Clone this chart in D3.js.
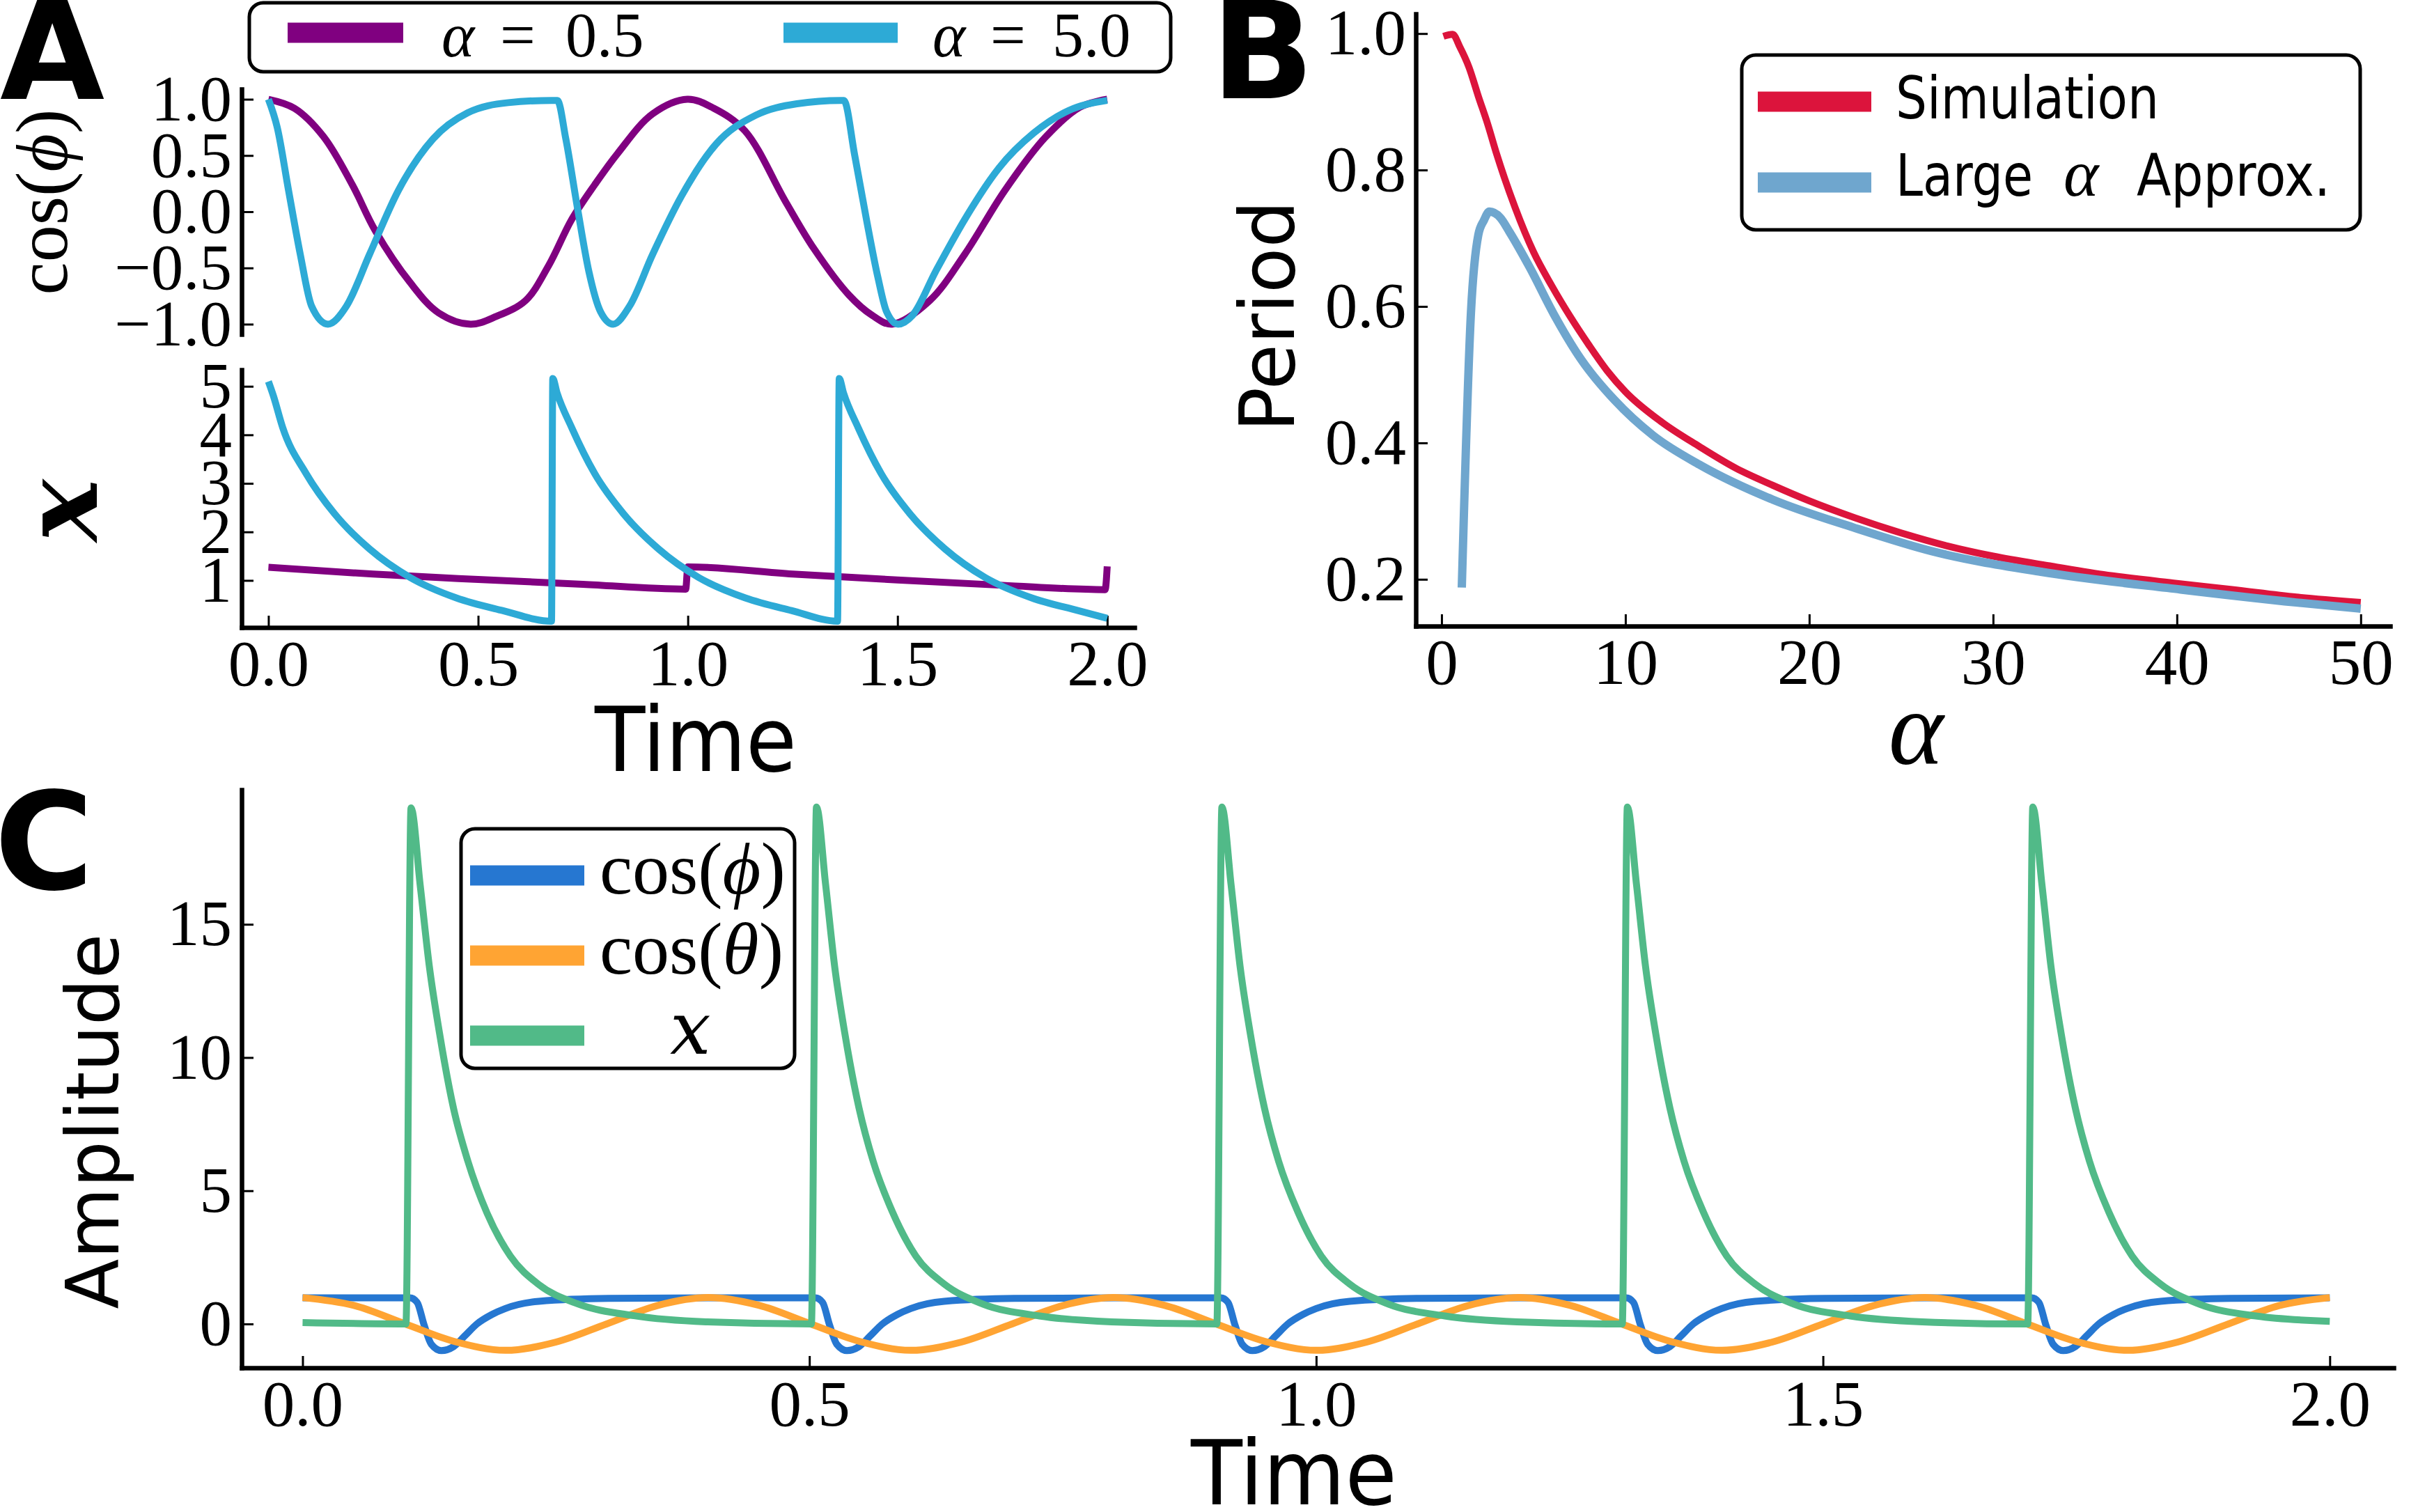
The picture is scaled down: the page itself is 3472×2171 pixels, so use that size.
<!DOCTYPE html>
<html>
<head>
<meta charset="utf-8">
<script src="https://cdn.jsdelivr.net/npm/d3@7"></script>
<style>
  body { margin: 0; background: #fff; }
  svg { display: block; }
</style>
</head>
<body>
<script>
/* ---------- data: panel A (time series, two alphas) ---------- */
var aTimeCos05 = [0, 0.062, 0.131, 0.2, 0.255, 0.338, 0.406, 0.482, 0.544, 0.613, 0.668, 0.723, 0.778, 0.833, 0.916, 0.999, 1.062, 1.136, 1.233, 1.301, 1.384, 1.439, 1.487, 1.577, 1.66, 1.756, 1.852, 1.935, 2.0];
var aCos05 = [1.0, 0.92, 0.67, 0.24, -0.17, -0.63, -0.9, -1.0, -0.93, -0.79, -0.48, -0.07, 0.24, 0.52, 0.87, 1.0, 0.92, 0.72, 0.09, -0.33, -0.74, -0.92, -1.0, -0.79, -0.38, 0.19, 0.66, 0.93, 1.0];

var aTimeCos5 = [0, 0.021, 0.048, 0.076, 0.103, 0.142, 0.186, 0.241, 0.31, 0.393, 0.475, 0.572, 0.675, 0.689, 0.709, 0.737, 0.764, 0.792, 0.822, 0.861, 0.916, 0.985, 1.067, 1.163, 1.26, 1.364, 1.372, 1.398, 1.426, 1.453, 1.474, 1.501, 1.536, 1.591, 1.66, 1.742, 1.825, 1.908, 2.0];
var aCos5 = [1.0, 0.75, 0.19, -0.38, -0.84, -1.0, -0.84, -0.38, 0.19, 0.65, 0.88, 0.97, 0.99, 0.99, 0.65, 0.03, -0.53, -0.89, -1.0, -0.84, -0.38, 0.14, 0.6, 0.86, 0.96, 0.99, 0.99, 0.5, -0.07, -0.58, -0.89, -1.0, -0.92, -0.53, -0.07, 0.39, 0.70, 0.9, 0.99];

var aTimeX05 = [0, 0.25, 0.5, 0.75, 0.995, 1.0, 1.25, 1.5, 1.75, 1.995, 2.0];
var aX05 = [1.27, 1.13, 1.02, 0.92, 0.82, 1.28, 1.13, 1.01, 0.9, 0.81, 1.29];

var aTimeX5 = [0, 0.012, 0.034, 0.09, 0.158, 0.241, 0.338, 0.448, 0.558, 0.675, 0.678, 0.688, 0.723, 0.778, 0.847, 0.93, 1.026, 1.137, 1.247, 1.357, 1.361, 1.371, 1.406, 1.461, 1.53, 1.613, 1.709, 1.82, 1.93, 2.0];
var aX5 = [5.1, 4.8, 4.15, 3.2, 2.37, 1.65, 1.06, 0.64, 0.38, 0.16, 5.16, 4.87, 4.15, 3.2, 2.37, 1.65, 1.06, 0.64, 0.38, 0.16, 5.16, 4.87, 4.15, 3.2, 2.37, 1.65, 1.06, 0.64, 0.38, 0.22];

var aTicksT = [0, 0.5, 1, 1.5, 2];
var aTicksCos = [-1, -0.5, 0, 0.5, 1];
var aTicksX = [1, 2, 3, 4, 5];

/* ---------- data: panel B (period vs alpha) ---------- */
var bAlphaSim = [0.1, 0.6, 1, 1.5, 2, 2.5, 3, 4, 5, 6, 7, 8, 9, 10, 12, 14, 16, 18, 20, 22.5, 25, 27.5, 30, 33, 36, 40, 43, 46.5, 50];
var bPeriodSim = [0.996, 0.999, 0.98, 0.95, 0.908, 0.868, 0.823, 0.745, 0.68, 0.63, 0.585, 0.544, 0.506, 0.475, 0.43, 0.395, 0.363, 0.338, 0.315, 0.29, 0.268, 0.249, 0.234, 0.22, 0.207, 0.194, 0.185, 0.174, 0.166];
var bAlphaApx = [1.1, 1.6, 2.0, 2.3, 2.6, 3.2, 3.7, 4.8, 6.1, 7.6, 9.4, 11.5, 14.1, 18, 22.4, 26.7, 32.6, 40.2, 46.5, 50];
var bPeriodApx = [0.188, 0.592, 0.705, 0.726, 0.739, 0.73, 0.709, 0.657, 0.589, 0.522, 0.463, 0.411, 0.367, 0.317, 0.276, 0.241, 0.211, 0.185, 0.166, 0.157];
var bTicksAlpha = [0, 10, 20, 30, 40, 50];
var bTicksPeriod = [0.2, 0.4, 0.6, 0.8, 1.0];

/* ---------- data: panel C (amplitudes) ---------- */
var cTimePhi = [0, 0.106, 0.113, 0.12, 0.127, 0.137, 0.149, 0.16, 0.172, 0.187, 0.2, 0.233, 0.302, 0.402,
  0.506, 0.513, 0.52, 0.527, 0.537, 0.549, 0.56, 0.572, 0.587, 0.6, 0.633, 0.702, 0.802,
  0.906, 0.913, 0.92, 0.927, 0.937, 0.949, 0.96, 0.972, 0.987, 1.0, 1.033, 1.102, 1.202,
  1.306, 1.313, 1.32, 1.327, 1.337, 1.349, 1.36, 1.372, 1.387, 1.4, 1.433, 1.502, 1.602,
  1.706, 1.713, 1.72, 1.727, 1.737, 1.749, 1.76, 1.772, 1.787, 1.8, 1.833, 1.902, 2.0];
var cCosPhi = [0.98, 0.98, 0.81, -0.05, -0.76, -1.0, -0.85, -0.45, 0.0, 0.36, 0.58, 0.85, 0.96, 0.98,
  0.98, 0.81, -0.05, -0.76, -1.0, -0.85, -0.45, 0.0, 0.36, 0.58, 0.85, 0.96, 0.98,
  0.98, 0.81, -0.05, -0.76, -1.0, -0.85, -0.45, 0.0, 0.36, 0.58, 0.85, 0.96, 0.98,
  0.98, 0.81, -0.05, -0.76, -1.0, -0.85, -0.45, 0.0, 0.36, 0.58, 0.85, 0.96, 0.98,
  0.98, 0.81, -0.05, -0.76, -1.0, -0.85, -0.45, 0.0, 0.36, 0.58, 0.85, 0.96, 0.98];

var cTimeTheta = [0, 0.05, 0.1, 0.15, 0.2, 0.25, 0.3, 0.35, 0.4, 0.45, 0.5, 0.55, 0.6, 0.65, 0.7, 0.75, 0.8, 0.85, 0.9, 0.95, 1.0,
  1.05, 1.1, 1.15, 1.2, 1.25, 1.3, 1.35, 1.4, 1.45, 1.5, 1.55, 1.6, 1.65, 1.7, 1.75, 1.8, 1.85, 1.9, 1.95, 2.0];
var cCosTheta = [0.99, 0.7, 0.02, -0.66, -0.99, -0.68, 0.0, 0.69, 0.99, 0.7, 0.02, -0.66, -0.99, -0.68, 0.0, 0.69, 0.99, 0.7, 0.02, -0.66, -0.99,
  -0.68, 0.0, 0.69, 0.99, 0.7, 0.02, -0.66, -0.99, -0.68, 0.0, 0.69, 0.99, 0.7, 0.02, -0.66, -0.99, -0.68, 0.0, 0.69, 0.99];

var cTimeX = [0, 0.102, 0.107, 0.116, 0.125, 0.135, 0.149, 0.163, 0.182, 0.205, 0.233, 0.271, 0.327, 0.398,
  0.502, 0.507, 0.516, 0.525, 0.535, 0.549, 0.563, 0.582, 0.605, 0.633, 0.671, 0.727, 0.798,
  0.902, 0.907, 0.916, 0.925, 0.935, 0.949, 0.963, 0.982, 1.005, 1.033, 1.071, 1.127, 1.198,
  1.302, 1.307, 1.316, 1.325, 1.335, 1.349, 1.363, 1.382, 1.405, 1.433, 1.471, 1.527, 1.598,
  1.702, 1.707, 1.716, 1.725, 1.735, 1.749, 1.763, 1.782, 1.805, 1.833, 1.871, 1.927, 2.0];
var cX = [0.05, 0.0, 19.37, 16.48, 13.44, 10.94, 8.08, 6.12, 4.16, 2.55, 1.48, 0.76, 0.31, 0.08,
  0.0, 19.4, 16.5, 13.4, 10.9, 8.1, 6.1, 4.2, 2.55, 1.5, 0.75, 0.3, 0.08,
  0.0, 19.4, 16.5, 13.4, 10.9, 8.1, 6.1, 4.2, 2.55, 1.5, 0.75, 0.3, 0.08,
  0.0, 19.4, 16.5, 13.4, 10.9, 8.1, 6.1, 4.2, 2.55, 1.5, 0.75, 0.3, 0.08,
  0.0, 19.4, 16.5, 13.4, 10.9, 8.1, 6.1, 4.2, 2.55, 1.5, 0.75, 0.3, 0.1];
var cTicksT = [0, 0.5, 1, 1.5, 2];
var cTicksAmp = [0, 5, 10, 15];

/* ---------- drawing ---------- */
var W = 3472, H = 2171;
var serif = '"Liberation Serif", "DejaVu Serif", serif';
var mathSerif = '"DejaVu Serif", "Liberation Serif", serif';
var sans = '"DejaVu Sans", sans-serif';

var svg = d3.select('body').append('svg').attr('width', W).attr('height', H);
svg.append('rect').attr('width', W).attr('height', H).attr('fill', '#fff');

var axT = d3.scaleLinear().domain([-0.0638, 2.065]).range([347, 1629]);
var ayCos = d3.scaleLinear().domain([-1.09, 1.09]).range([480, 128]);
var ayX = d3.scaleLinear().domain([0.03, 5.34]).range([901, 531]);
var bxA = d3.scaleLinear().domain([-1.4, 51.6]).range([2033, 3432]);
var byP = d3.scaleLinear().domain([0.1314, 1.0288]).range([899, 20]);
var cxT = d3.scaleLinear().domain([-0.0601, 2.063]).range([347, 3437]);
var cyA = d3.scaleLinear().domain([-1.647, 20.05]).range([1964, 1134]);

function styleAxis(g) {
  g.select('.domain').attr('stroke', '#000').attr('stroke-width', 6.5).attr('stroke-linecap', 'square');
  g.selectAll('.tick line').attr('stroke', '#000').attr('stroke-width', 3);
  g.selectAll('.tick text').attr('font-family', serif).attr('font-size', 93).attr('fill', '#000');
}
function leftAxis(scale, x, ticks, fmt) {
  var g = svg.append('g').attr('transform', 'translate(' + x + ',0)')
    .call(d3.axisLeft(scale).tickValues(ticks).tickFormat(fmt).tickSize(-17).tickSizeOuter(0).tickPadding(14));
  styleAxis(g);
  return g;
}
function bottomAxis(scale, y, ticks, fmt) {
  var g = svg.append('g').attr('transform', 'translate(0,' + y + ')')
    .call(d3.axisBottom(scale).tickValues(ticks).tickFormat(fmt).tickSize(-17).tickSizeOuter(0));
  styleAxis(g);
  g.selectAll('.tick text').attr('y', 83).attr('dy', null);
  return g;
}
function drawLine(xs, ys, tArr, vArr, color, width, curve) {
  var line = d3.line()
    .x(function(d) { return xs(d[0]); })
    .y(function(d) { return ys(d[1]); })
    .curve(curve || d3.curveMonotoneX);
  svg.append('path')
    .datum(d3.zip(tArr, vArr))
    .attr('d', line)
    .attr('fill', 'none')
    .attr('stroke', color)
    .attr('stroke-width', width)
    .attr('stroke-linejoin', 'round');
}
function legendBox(x, y, w, h) {
  svg.append('rect').attr('x', x).attr('y', y).attr('width', w).attr('height', h)
    .attr('rx', 20).attr('fill', '#fff').attr('stroke', '#000').attr('stroke-width', 5);
}
function handle(x1, x2, y, color) {
  svg.append('line').attr('x1', x1).attr('x2', x2).attr('y1', y).attr('y2', y)
    .attr('stroke', color).attr('stroke-width', 29);
}
function sansText(str, x, y, size, len, rot) {
  var t = svg.append('text').attr('font-family', sans).attr('font-size', size).attr('fill', '#000')
    .attr('textLength', len).attr('lengthAdjust', 'spacingAndGlyphs').text(str);
  if (rot) {
    t.attr('transform', 'translate(' + x + ',' + y + ') rotate(-90)').attr('x', -len / 2).attr('y', 0);
  } else {
    t.attr('x', x - len / 2).attr('y', y);
  }
  return t;
}
// math-ish text: parts = [[string, italic, x]]
function mathText(parts, x, y, size, anchor, rot, bold, family) {
  var t = svg.append('text').attr('font-family', family || serif).attr('font-size', size).attr('fill', '#000')
    .attr('text-anchor', anchor || 'start');
  if (bold) t.attr('font-weight', 'bold');
  if (rot) t.attr('transform', 'translate(' + x + ',' + y + ') rotate(-90)');
  else t.attr('x', x).attr('y', y);
  parts.forEach(function(p) {
    var s = t.append('tspan').text(p[0]);
    if (p[1]) s.attr('font-style', 'italic');
    if (p[2] !== undefined) s.attr('x', p[2]);
  });
  return t;
}

var purple = '#800080', cyan = '#2DAAD6';

/* ----- Panel A top ----- */
leftAxis(ayCos, 347, aTicksCos, d3.format('.1f'));
drawLine(axT, ayCos, aTimeCos05, aCos05, purple, 10, d3.curveCatmullRom);
drawLine(axT, ayCos, aTimeCos5, aCos5, cyan, 10);

/* ----- Panel A bottom ----- */
leftAxis(ayX, 347, aTicksX, d3.format('d'));
bottomAxis(axT, 901, aTicksT, d3.format('.1f'));
drawLine(axT, ayX, aTimeX05, aX05, purple, 10);
drawLine(axT, ayX, aTimeX5, aX5, cyan, 10);

mathText([['cos('], ['\u03D5', true], [')']], 96, 290, 106, 'middle', true);
mathText([['x', true]], 139, 733, 150, 'middle', true, true, mathSerif);
sansText('Time', 999, 1107, 129, 290);

legendBox(358, 4, 1323, 99);
handle(413, 579, 47, purple);
handle(1125, 1289, 47, cyan);
mathText([['\u03B1', true, 634], ['=', false, 718], ['0.5', false, 812]], 634, 81, 90);
mathText([['\u03B1', true, 1339], ['=', false, 1422], ['5.0', false, 1511]], 1339, 81, 90);

/* ----- Panel B ----- */
leftAxis(byP, 2033, bTicksPeriod, d3.format('.1f'));
bottomAxis(bxA, 899, bTicksAlpha, d3.format('d'));
drawLine(bxA, byP, bAlphaSim, bPeriodSim, '#DC143C', 10);
drawLine(bxA, byP, bAlphaApx, bPeriodApx, '#6FA6CE', 12);

sansText('Period', 1858, 454, 108, 332, true);
mathText([['\u03B1', true]], 2751, 1097, 150, 'middle');

legendBox(2501, 79, 888, 251);
handle(2524, 2687, 146, '#DC143C');
handle(2524, 2687, 262, '#6FA6CE');
svg.append('text').attr('x', 2722).attr('y', 170).attr('font-family', sans).attr('font-size', 84)
  .attr('textLength', 378).attr('lengthAdjust', 'spacingAndGlyphs').text('Simulation');
svg.append('text').attr('x', 2722).attr('y', 281).attr('font-family', sans).attr('font-size', 84)
  .attr('textLength', 197).attr('lengthAdjust', 'spacingAndGlyphs').text('Large');
mathText([['\u03B1', true]], 2963, 281, 96);
svg.append('text').attr('x', 3068).attr('y', 281).attr('font-family', sans).attr('font-size', 84)
  .attr('textLength', 278).attr('lengthAdjust', 'spacingAndGlyphs').text('Approx.');

/* ----- Panel C ----- */
leftAxis(cyA, 347, cTicksAmp, d3.format('d'));
bottomAxis(cxT, 1964, cTicksT, d3.format('.1f'));
drawLine(cxT, cyA, cTimePhi, cCosPhi, '#2677D1', 10);
drawLine(cxT, cyA, cTimeTheta, cCosTheta, '#FFA433', 10, d3.curveCatmullRom);
drawLine(cxT, cyA, cTimeX, cX, '#51BA88', 10);

sansText('Amplitude', 170, 1610, 106, 539, true);
sansText('Time', 1858, 2160, 129, 296);

legendBox(662, 1190, 479, 344);
handle(675, 839, 1257, '#2677D1');
handle(675, 839, 1372, '#FFA433');
handle(675, 839, 1487, '#51BA88');
mathText([['cos('], ['\u03D5', true], [')']], 861, 1283, 106);
mathText([['cos('], ['\u03B8', true], [')']], 861, 1398, 106);
mathText([['x', true]], 962, 1513, 104, 'start', false, false, mathSerif);

/* ----- panel letters ----- */
[['A', 0, 142], ['B', 1739, 141], ['C', -8, 1276]].forEach(function(p) {
  svg.append('text').attr('x', p[1]).attr('y', p[2]).attr('font-family', sans)
    .attr('font-weight', 'bold').attr('font-size', 194).attr('fill', '#000').text(p[0]);
});
</script>
</body>
</html>
